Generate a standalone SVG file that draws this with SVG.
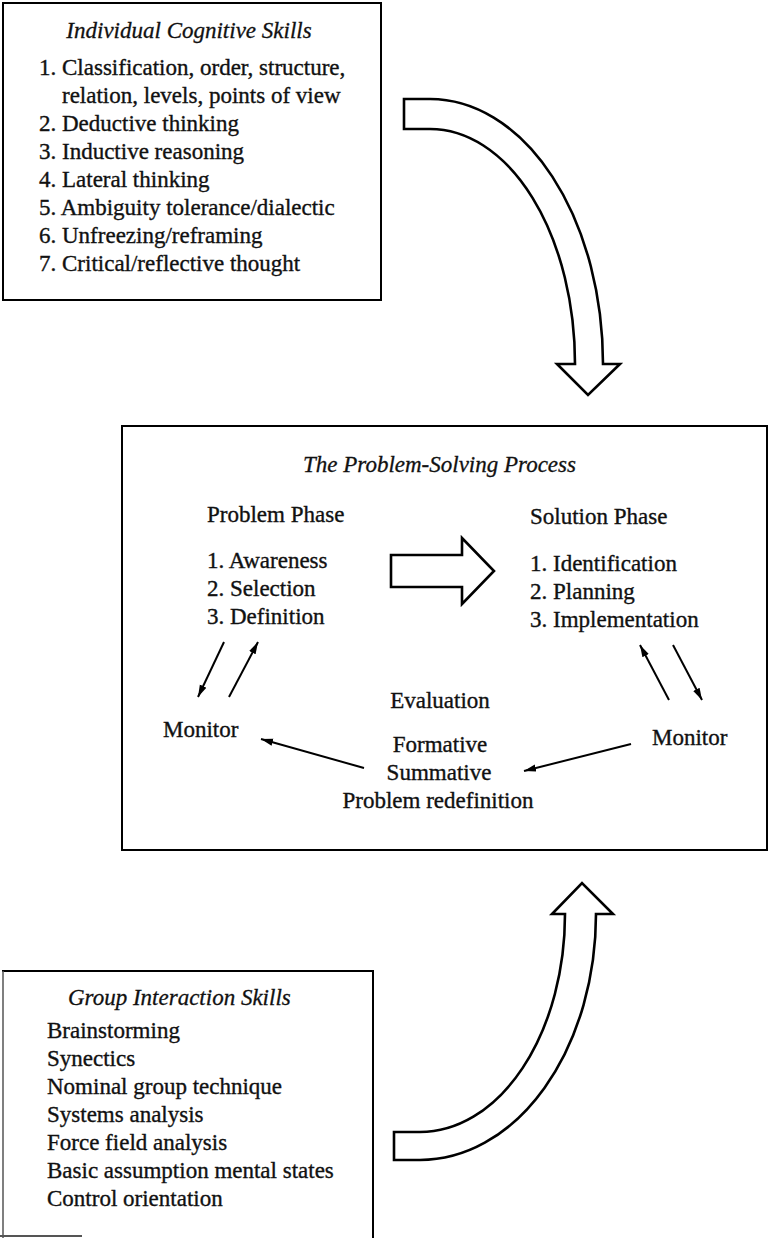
<svg xmlns="http://www.w3.org/2000/svg" width="769" height="1238" viewBox="0 0 769 1238">
  <style>
    .box { fill: none; stroke: #000; stroke-width: 2; }
    .txt { font-family: "Liberation Serif", "Times New Roman", serif; font-size: 23px; fill: #111; stroke: #111; stroke-width: 0.35; }
    .ttl { font-family: "Liberation Serif", "Times New Roman", serif; font-size: 23px; font-style: italic; fill: #111; stroke: #111; stroke-width: 0.3; }
    .block { fill: #fff; stroke: #000; stroke-width: 2.6; stroke-linejoin: miter; }
    .thin { fill: none; stroke: #000; stroke-width: 2; marker-end: url(#ah); }
  </style>
  <defs>
    <marker id="ah" viewBox="0 0 10 10" refX="10" refY="5" markerWidth="6" markerHeight="6" orient="auto">
      <path d="M0,2 L10,5 L0,8 Z" fill="#000"/>
    </marker>
  </defs>
  <rect width="769" height="1238" fill="#fff"/>

  <!-- Individual cognitive skills -->
  <g id="cognitive-skills">
    <rect class="box" x="3" y="3" width="378" height="297"/>
    <text class="ttl" x="189" y="38" text-anchor="middle">Individual Cognitive Skills</text>
    <text class="txt" x="39" y="75">1. Classification, order, structure,</text>
    <text class="txt" x="62" y="103">relation, levels, points of view</text>
    <text class="txt" x="39" y="131">2. Deductive thinking</text>
    <text class="txt" x="39" y="159">3. Inductive reasoning</text>
    <text class="txt" x="39" y="187">4. Lateral thinking</text>
    <text class="txt" x="39" y="215">5. Ambiguity tolerance/dialectic</text>
    <text class="txt" x="39" y="243">6. Unfreezing/reframing</text>
    <text class="txt" x="39" y="271">7. Critical/reflective thought</text>
  </g>

  <!-- The problem-solving process -->
  <g id="problem-solving">
    <rect class="box" x="122" y="426" width="645" height="424"/>
    <text class="ttl" x="303" y="472">The Problem-Solving Process</text>
  </g>
  <g id="problem-phase">
    <text class="txt" x="207" y="522">Problem Phase</text>
    <text class="txt" x="207" y="568">1. Awareness</text>
    <text class="txt" x="207" y="596">2. Selection</text>
    <text class="txt" x="207" y="624">3. Definition</text>
  </g>
  <g id="solution-phase">
    <text class="txt" x="530" y="524">Solution Phase</text>
    <text class="txt" x="530" y="571">1. Identification</text>
    <text class="txt" x="530" y="599">2. Planning</text>
    <text class="txt" x="530" y="627">3. Implementation</text>
  </g>
  <g id="monitor-left">
    <text class="txt" x="163" y="737">Monitor</text>
  </g>
  <g id="monitor-right">
    <text class="txt" x="652" y="745">Monitor</text>
  </g>
  <g id="evaluation">
    <text class="txt" x="440" y="708" text-anchor="middle">Evaluation</text>
    <text class="txt" x="440" y="752" text-anchor="middle">Formative</text>
    <text class="txt" x="439" y="780" text-anchor="middle">Summative</text>
    <text class="txt" x="438" y="808" text-anchor="middle">Problem redefinition</text>
  </g>

  <!-- Group interaction skills (box runs off the bottom edge) -->
  <g id="group-skills">
    <path d="M2,971 H373 V1238" fill="none" stroke="#000" stroke-width="2"/>
    <line x1="3" y1="971" x2="3" y2="1238" stroke="#555" stroke-width="1.5"/>
    <line x1="0" y1="1236" x2="82" y2="1236" stroke="#555" stroke-width="2"/>
    <text class="ttl" x="68" y="1005">Group Interaction Skills</text>
    <text class="txt" x="47" y="1038">Brainstorming</text>
    <text class="txt" x="47" y="1066">Synectics</text>
    <text class="txt" x="47" y="1094">Nominal group technique</text>
    <text class="txt" x="47" y="1122">Systems analysis</text>
    <text class="txt" x="47" y="1150">Force field analysis</text>
    <text class="txt" x="47" y="1178">Basic assumption mental states</text>
    <text class="txt" x="47" y="1206">Control orientation</text>
  </g>

  <g id="connectors">
    <!-- curved block arrow: cognitive skills down into the process -->
    <path class="block" d="M404,99 L430,99 A173,265 0 0 1 603,364 L620,364 L588,395 L557,364 L575,364 A145,235 0 0 0 430,129 L404,129 Z"/>
    <!-- curved block arrow: group skills up into the process -->
    <path class="block" d="M394,1132 L420,1132 A145,218 0 0 0 565,914 L552,914 L582,883 L613,914 L596,914 A176,246 0 0 1 420,1160 L394,1160 Z"/>
    <!-- problem phase to solution phase -->
    <path class="block" d="M391,555 L462,555 L462,538 L494,571 L462,604 L462,587 L391,587 Z"/>
    <!-- monitoring loops -->
    <line class="thin" x1="224" y1="642" x2="198" y2="697"/>
    <line class="thin" x1="229" y1="697" x2="258" y2="642"/>
    <line class="thin" x1="669" y1="700" x2="640" y2="645"/>
    <line class="thin" x1="673" y1="645" x2="702" y2="700"/>
    <line class="thin" x1="364" y1="768" x2="261" y2="739"/>
    <line class="thin" x1="631" y1="744" x2="524" y2="771"/>
  </g>
</svg>
